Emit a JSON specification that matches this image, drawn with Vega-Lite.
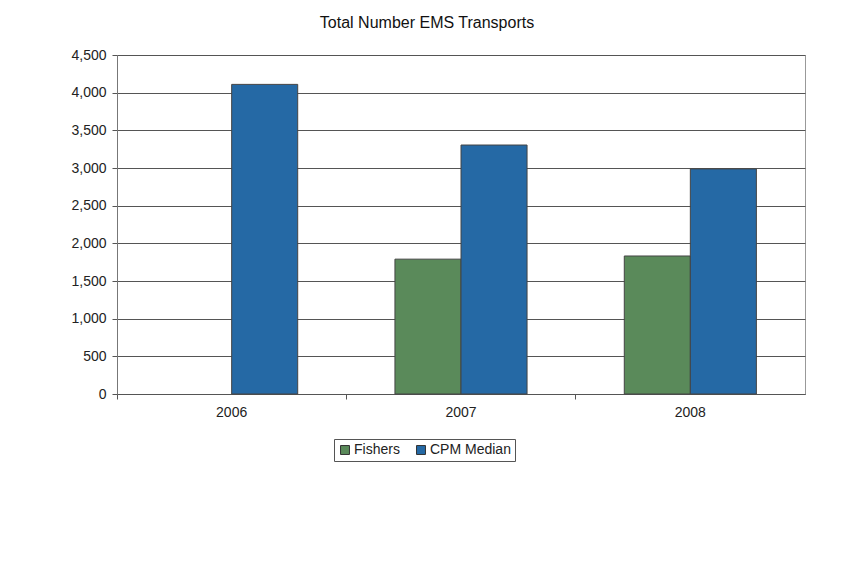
{
  "$schema": "https://vega.github.io/schema/vega-lite/v6.json",
  "autosize": "none",
  "width": 688,
  "height": 339,
  "padding": {"left": 117, "top": 55, "right": 41, "bottom": 169},
  "background": "white",
  "title": {
    "text": "Total Number EMS Transports",
    "anchor": "middle",
    "dx": -34,
    "fontSize": 16,
    "fontWeight": "normal",
    "font": "Liberation Sans",
    "color": "#111111",
    "baseline": "alphabetic",
    "offset": 4
  },
  "data": {
    "values": [
      {"year": "2006", "series": "CPM Median", "value": 4110},
      {"year": "2007", "series": "Fishers", "value": 1790},
      {"year": "2007", "series": "CPM Median", "value": 3305},
      {"year": "2008", "series": "Fishers", "value": 1832},
      {"year": "2008", "series": "CPM Median", "value": 2988}
    ]
  },
  "mark": {"type": "bar", "stroke": "#444444", "strokeWidth": 1},
  "encoding": {
    "x": {
      "field": "year",
      "type": "nominal",
      "scale": {"paddingInner": 0.424, "paddingOuter": 0.212},
      "axis": {
        "title": null,
        "labelAngle": 0,
        "labelFont": "Liberation Sans",
        "labelFontSize": 14,
        "labelColor": "#222222",
        "labelPadding": 6,
        "bandPosition": -0.368,
        "tickSize": 5,
        "tickColor": "#555555",
        "domainColor": "#555555",
        "grid": false
      }
    },
    "xOffset": {
      "field": "series",
      "type": "nominal",
      "scale": {"domain": ["Fishers", "CPM Median"], "paddingInner": 0, "paddingOuter": 0}
    },
    "y": {
      "field": "value",
      "type": "quantitative",
      "scale": {"domain": [0, 4500]},
      "axis": {
        "title": null,
        "values": [0, 500, 1000, 1500, 2000, 2500, 3000, 3500, 4000, 4500],
        "format": ",d",
        "labelFont": "Liberation Sans",
        "labelFontSize": 14,
        "labelColor": "#222222",
        "labelPadding": 6,
        "tickSize": 5,
        "tickColor": "#555555",
        "domainColor": "#777777",
        "grid": true,
        "gridColor": "#555555",
        "gridOpacity": 1
      }
    },
    "color": {
      "field": "series",
      "type": "nominal",
      "scale": {"domain": ["Fishers", "CPM Median"], "range": ["#5a8a5a", "#2569a5"]},
      "legend": {
        "title": null,
        "orient": "none",
        "direction": "horizontal",
        "legendX": 217,
        "legendY": 384,
        "symbolType": "square",
        "symbolSize": 80,
        "symbolStrokeColor": "#333333",
        "symbolStrokeWidth": 1,
        "symbolOpacity": 1,
        "labelFont": "Liberation Sans",
        "labelFontSize": 14,
        "labelColor": "#222222",
        "labelOffset": 2,
        "columnPadding": 14,
        "strokeColor": "#555555",
        "fillColor": "white",
        "padding": 4
      }
    }
  },
  "config": {
    "view": {"stroke": "#999999", "strokeWidth": 1}
  }
}
